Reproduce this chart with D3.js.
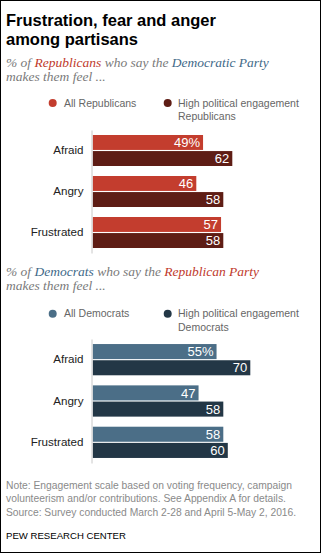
<!DOCTYPE html>
<html>
<head>
<meta charset="utf-8">
<script src="https://cdn.jsdelivr.net/npm/d3@7"></script>
<style>
  body { margin: 0; background: #fff; }
  svg { display: block; }
  .sans { font-family: "Liberation Sans", Arial, sans-serif; }
  .serif { font-family: "Liberation Serif", Georgia, serif; font-style: italic; }
</style>
</head>
<body>
<div id="chart"></div>
<script>
const categories = ["Afraid", "Angry", "Frustrated"];
const repAll = [49, 46, 57];
const repHigh = [62, 58, 58];
const demAll = [55, 47, 58];
const demHigh = [70, 58, 60];

const W = 321, H = 553;

const svg = d3.select("#chart").append("svg")
  .attr("width", W)
  .attr("height", H);

svg.append("rect")
  .attr("x", 0.5).attr("y", 0.5)
  .attr("width", W - 1).attr("height", H - 1)
  .attr("fill", "#fff").attr("stroke", "#000");

// Title
const title = svg.append("text").attr("class", "sans")
  .attr("font-weight", "bold").attr("font-size", 16.5).attr("fill", "#000");
title.append("tspan").attr("x", 6).attr("y", 25.5).text("Frustration, fear and anger");
title.append("tspan").attr("x", 6).attr("y", 45).text("among partisans");

// shared x scale
const x = d3.scaleLinear().domain([0, 100]).range([92.8, 317.8]);

function panel(opts) {
  const g = svg.append("g");

  // subtitle
  const sub = g.append("text").attr("class", "serif")
    .attr("font-size", 13.5).attr("fill", "#7a7a7a");
  const l1 = sub.append("tspan").attr("x", 6).attr("y", opts.subY);
  l1.append("tspan").text("% of ");
  l1.append("tspan").attr("fill", opts.whoColor).text(opts.who);
  l1.append("tspan").text(" who say the ");
  l1.append("tspan").attr("fill", opts.partyColor).text(opts.party);
  sub.append("tspan").attr("x", 6).attr("y", opts.subY + 14.3).text("makes them feel ...");

  // legend
  const leg = g.append("g").attr("class", "sans").attr("font-size", 10.5).attr("fill", "#666");
  leg.append("circle").attr("cx", 52.7).attr("cy", opts.legY - 3.5).attr("r", 4).attr("fill", opts.colors[0]);
  leg.append("text").attr("x", 64).attr("y", opts.legY).text(opts.names[0]);
  leg.append("circle").attr("cx", 167.7).attr("cy", opts.legY - 3.5).attr("r", 4).attr("fill", opts.colors[1]);
  const t2 = leg.append("text");
  t2.append("tspan").attr("x", 178).attr("y", opts.legY).text("High political engagement");
  t2.append("tspan").attr("x", 178).attr("y", opts.legY + 13.7).text(opts.names[1]);

  // bars
  const y = d3.scaleBand().domain(categories)
    .range(opts.yRange).paddingInner(0.244).paddingOuter(0.122);
  const yi = d3.scaleBand().domain([0, 1])
    .range([0, y.bandwidth()]).paddingInner(0.07);

  const rows = categories.map((c, i) => ({ c, v: [opts.all[i], opts.high[i]] }));

  const grp = g.selectAll("g.row").data(rows).join("g")
    .attr("class", "row")
    .attr("transform", d => `translate(0,${y(d.c)})`);

  const bar = grp.selectAll("g.bar").data((d, ri) => d.v.map((v, k) => ({ v, k, ri }))).join("g")
    .attr("class", "bar");

  bar.append("rect")
    .attr("x", x(0))
    .attr("y", d => yi(d.k))
    .attr("width", d => x(d.v) - x(0))
    .attr("height", yi.bandwidth())
    .attr("fill", d => opts.colors[d.k]);

  bar.append("text").attr("class", "sans")
    .attr("x", d => x(d.v) - 3)
    .attr("y", d => yi(d.k) + yi.bandwidth() / 2)
    .attr("dy", "0.36em")
    .attr("text-anchor", "end")
    .attr("font-size", 13)
    .attr("fill", "#fff")
    .text(d => d.ri === 0 && d.k === 0 ? d.v + "%" : d.v);

  // category axis
  const axis = g.append("g")
    .attr("transform", `translate(${x(0) - 1.3},0)`)
    .call(d3.axisLeft(y).tickSize(0).tickPadding(8));
  axis.select(".domain").attr("stroke", "#c8c8c8");
  axis.selectAll(".tick text")
    .attr("font-family", "Liberation Sans, Arial, sans-serif")
    .attr("font-size", 11.6)
    .attr("fill", "#222");
}

panel({
  subY: 66.7,
  who: "Republicans", whoColor: "#c0392b",
  party: "Democratic Party", partyColor: "#3f6a89",
  legY: 106.5,
  names: ["All Republicans", "Republicans"],
  colors: ["#c33d2e", "#5e1d15"],
  all: repAll, high: repHigh,
  yRange: [130, 253]
});

panel({
  subY: 275.7,
  who: "Democrats", whoColor: "#3f6a89",
  party: "Republican Party", partyColor: "#c0392b",
  legY: 317.3,
  names: ["All Democrats", "Democrats"],
  colors: ["#4b6e87", "#233746"],
  all: demAll, high: demHigh,
  yRange: [339, 463]
});

// Note and source
const note = svg.append("text").attr("class", "sans")
  .attr("font-size", 10.3).attr("fill", "#8a8a8a");
[
  "Note: Engagement scale based on voting frequency, campaign",
  "volunteerism and/or contributions. See Appendix A for details.",
  "Source: Survey conducted March 2-28 and April 5-May 2, 2016."
].forEach((s, i) => note.append("tspan").attr("x", 6).attr("y", 489 + i * 13.4).text(s));

svg.append("text").attr("class", "sans")
  .attr("x", 6).attr("y", 538.5)
  .attr("font-size", 9.6).attr("fill", "#000")
  .text("PEW RESEARCH CENTER");
</script>
</body>
</html>
